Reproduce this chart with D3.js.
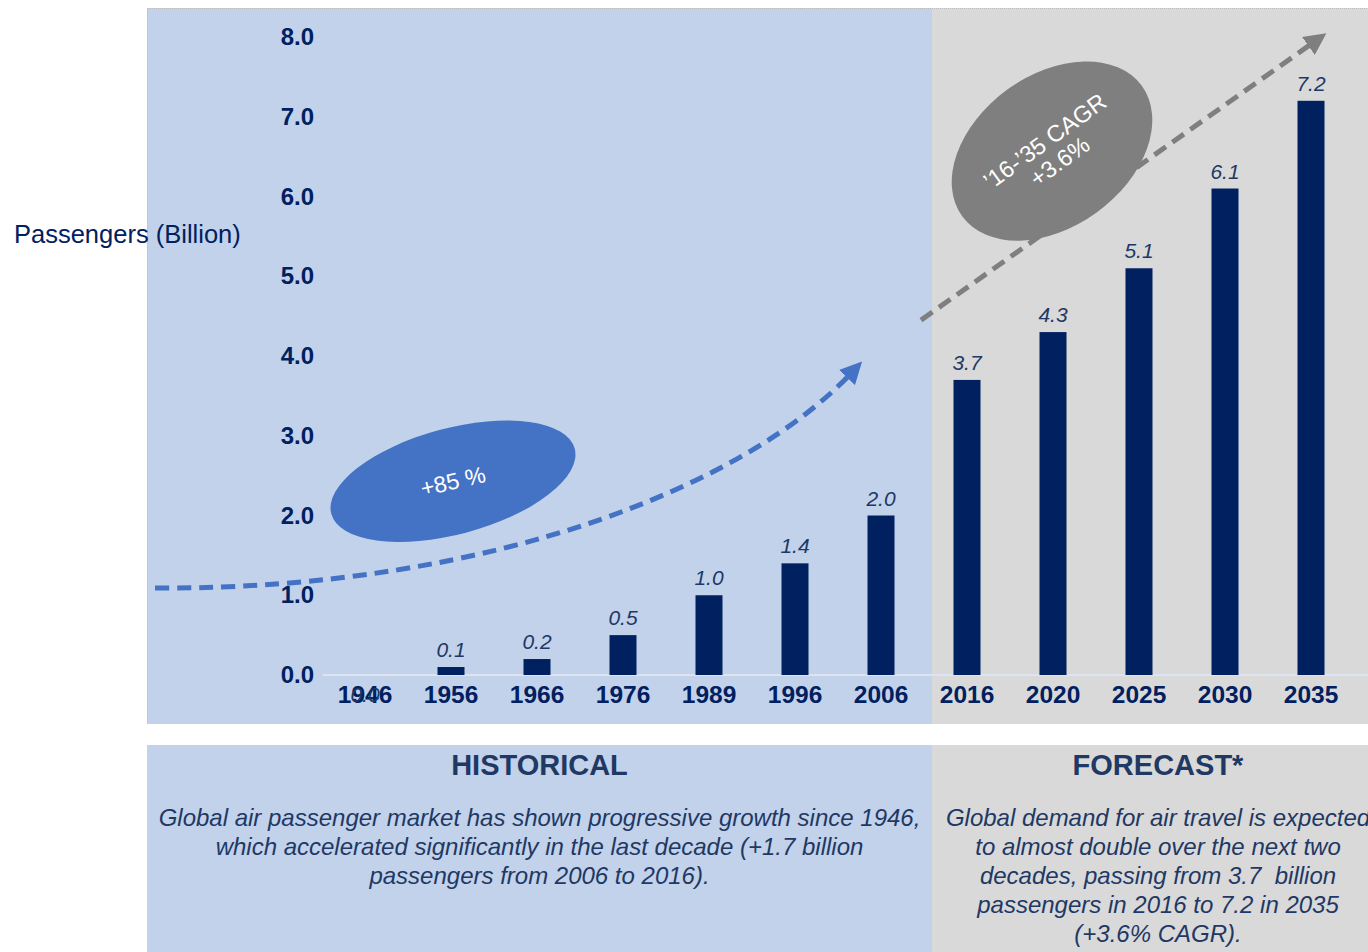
<!DOCTYPE html>
<html>
  <head>
    <script src="https://cdn.jsdelivr.net/npm/d3@7"></script>
    <style>
      body { margin: 0; background: #fff; }
      text { font-family: "Liberation Sans", Arial, sans-serif; white-space: pre; }
    </style>
  </head>
  <body>
    <svg id="chart" width="1368" height="952"></svg>
    <script>
    var years = ["1946","1956","1966","1976","1989","1996","2006","2016","2020","2025","2030","2035"];
    var passengers = [0.0, 0.1, 0.2, 0.5, 1.0, 1.4, 2.0, 3.7, 4.3, 5.1, 6.1, 7.2];
    var yTicks = [0, 1, 2, 3, 4, 5, 6, 7, 8];
    var historicalText = [
      "Global air passenger market has shown progressive growth since 1946,",
      "which accelerated significantly in the last decade (+1.7 billion",
      "passengers from 2006 to 2016)."
    ];
    var forecastText = [
      "Global demand for air travel is expected",
      "to almost double over the next two",
      "decades, passing from 3.7  billion",
      "passengers in 2016 to 7.2 in 2035",
      "(+3.6% CAGR)."
    ];

    var navy = "#002060", textNavy = "#1f3864",
        blueBg = "#c1d2ea", grayBg = "#d9d9d9",
        blueMark = "#4472c4", grayMark = "#7f7f7f";

    var svg = d3.select("#chart");

    var x = d3.scaleBand().domain(years).range([322, 1354]).padding(0);
    var y = d3.scaleLinear().domain([0, 8]).range([675, 37]);
    var cx = function(d){ return x(d) + x.bandwidth()/2; };
    var barW = 27;

    // background panels
    svg.append("rect").attr("x", 147).attr("y", 8).attr("width", 785).attr("height", 716).attr("fill", blueBg);
    svg.append("rect").attr("x", 932).attr("y", 8).attr("width", 436).attr("height", 716).attr("fill", grayBg);
    svg.append("path").attr("d", "M147.5,724 V8.5 H1368")
      .attr("fill", "none").attr("stroke", "#bdbdbd").attr("stroke-dasharray", "1,1");
    svg.append("rect").attr("x", 147).attr("y", 745).attr("width", 785).attr("height", 207).attr("fill", blueBg);
    svg.append("rect").attr("x", 932).attr("y", 745).attr("width", 436).attr("height", 207).attr("fill", grayBg);

    // baseline
    svg.append("line").attr("x1", 323).attr("x2", 1368).attr("y1", y(0)).attr("y2", y(0))
      .attr("stroke", "#dde4f0").attr("stroke-width", 2);

    // y axis
    var yAxis = svg.append("g").attr("transform", "translate(314,0)")
      .call(d3.axisLeft(y).tickValues(yTicks).tickFormat(d3.format(".1f")).tickSize(0).tickPadding(0));
    yAxis.select(".domain").remove();
    yAxis.selectAll("text").attr("font-size", 24).attr("font-weight", "bold")
      .attr("fill", navy).attr("font-family", "Liberation Sans, Arial, sans-serif");

    svg.append("text").attr("x", 14).attr("y", 243).attr("font-size", 25.5).attr("fill", navy)
      .text("Passengers (Billion)");

    // x labels
    var xAxis = svg.append("g").attr("transform", "translate(0," + (y(0) + 11) + ")")
      .call(d3.axisBottom(x).tickSize(0).tickPadding(0));
    xAxis.select(".domain").remove();
    xAxis.selectAll("text").attr("font-size", 24.5).attr("font-weight", "bold")
      .attr("fill", navy).attr("font-family", "Liberation Sans, Arial, sans-serif");

    // bars
    svg.append("g").selectAll("rect").data(passengers).enter().append("rect")
      .attr("x", function(d, i){ return cx(years[i]) - barW/2; })
      .attr("y", function(d){ return y(d); })
      .attr("width", barW)
      .attr("height", function(d){ return y(0) - y(d); })
      .attr("fill", navy);

    // value labels (the zero label sits on the category label, as in the source)
    svg.append("g").selectAll("text").data(passengers).enter().append("text")
      .attr("x", function(d, i){ return cx(years[i]); })
      .attr("y", function(d){ return d === 0 ? y(0) + 27 : y(d) - 10; })
      .attr("text-anchor", "middle").attr("font-size", 21).attr("font-style", "italic")
      .attr("fill", textNavy)
      .text(function(d){ return d.toFixed(1); });

    // arrow markers
    var defs = svg.append("defs");
    [["arrBlue", blueMark], ["arrGray", grayMark]].forEach(function(m){
      defs.append("marker").attr("id", m[0]).attr("viewBox", "0 0 10 10")
        .attr("refX", 2).attr("refY", 5).attr("markerWidth", 4.4).attr("markerHeight", 4.4)
        .attr("orient", "auto").attr("markerUnits", "strokeWidth")
        .append("path").attr("d", "M0,0 L10,5 L0,10 Z").attr("fill", m[1]);
    });

    // historical growth curve
    var p0 = [155, y(1.09)], c1 = [500, y(1.07)], c2 = [750, y(2.44)], p1 = [850, y(3.77)];
    svg.append("path")
      .attr("d", "M" + p0 + " C" + c1 + " " + c2 + " " + p1)
      .attr("fill", "none").attr("stroke", blueMark).attr("stroke-width", 5)
      .attr("stroke-dasharray", "14,8").attr("marker-end", "url(#arrBlue)");

    var e1 = [cx("1956") + 2, y(2.43)];
    var g1 = svg.append("g").attr("transform", "translate(" + e1 + ") rotate(-15)");
    g1.append("ellipse").attr("rx", 126).attr("ry", 53).attr("fill", blueMark);
    g1.append("text").attr("y", 8).attr("text-anchor", "middle").attr("font-size", 23)
      .attr("fill", "#fff").attr("transform", "rotate(2)").text("+85 %");

    // forecast arrow
    svg.append("line")
      .attr("x1", 921).attr("y1", y(4.45)).attr("x2", 1312).attr("y2", y(7.92))
      .attr("stroke", grayMark).attr("stroke-width", 5)
      .attr("stroke-dasharray", "14,8").attr("marker-end", "url(#arrGray)");

    var e2 = [cx("2020") - 1, y(6.57)];
    var g2 = svg.append("g").attr("transform", "translate(" + e2 + ") rotate(-36)");
    g2.append("ellipse").attr("rx", 111).attr("ry", 76).attr("fill", grayMark);
    g2.append("text").attr("y", -4).attr("text-anchor", "middle").attr("font-size", 23.5)
      .attr("fill", "#fff").text("\u201916-\u201935 CAGR");
    g2.append("text").attr("y", 21).attr("text-anchor", "middle").attr("font-size", 23.5)
      .attr("fill", "#fff").text("+3.6%");

    // bottom notes
    svg.append("text").attr("x", 539.5).attr("y", 775).attr("text-anchor", "middle")
      .attr("font-size", 29).attr("font-weight", "bold").attr("fill", textNavy).text("HISTORICAL");
    svg.append("text").attr("x", 1158).attr("y", 775).attr("text-anchor", "middle")
      .attr("font-size", 29).attr("font-weight", "bold").attr("fill", textNavy).text("FORECAST*");

    svg.append("g").selectAll("text").data(historicalText).enter().append("text")
      .attr("x", 539.5).attr("y", function(d, i){ return 826 + i*29; })
      .attr("text-anchor", "middle").attr("font-size", 24).attr("font-style", "italic")
      .attr("fill", textNavy).text(function(d){ return d; });

    svg.append("g").selectAll("text").data(forecastText).enter().append("text")
      .attr("x", 1158).attr("y", function(d, i){ return 826 + i*29; })
      .attr("text-anchor", "middle").attr("font-size", 24).attr("font-style", "italic")
      .attr("fill", textNavy).text(function(d){ return d; });
    </script>
  </body>
</html>
